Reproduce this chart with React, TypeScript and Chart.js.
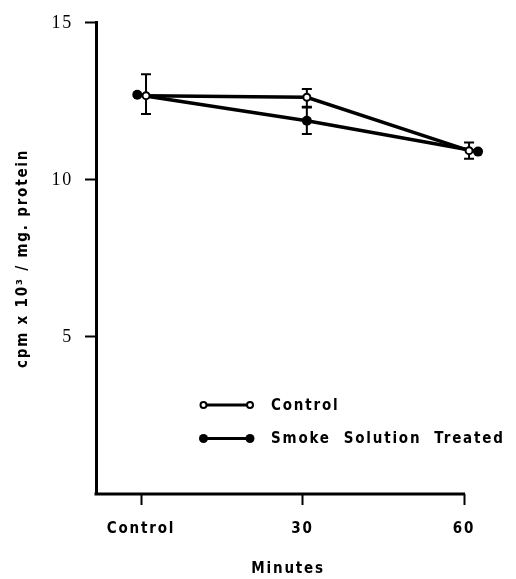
import React, { useEffect, useRef } from 'react';
import { Chart, registerables } from 'chart.js';

Chart.register(...registerables);

// ---- data ----
const tickValues = [0, 30, 60];
const tickLabels = ['Control', '30', '60'];
const yTickValues = [5, 10, 15];

const seriesNames = ['Control', 'Smoke  Solution  Treated'];

const controlX = [0.93, 30.8, 60.93];
const controlMean = [12.68, 12.63, 10.93];
const controlLow = [12.1, 12.33, 10.67];
const controlHigh = [13.36, 12.89, 11.19];

const smokeX = [-0.69, 30.8, 62.6];
const smokeMean = [12.71, 11.88, 10.9];
const smokeLow: (number | null)[] = [null, 11.46, null];
const smokeHigh: (number | null)[] = [null, 12.3, null];

const SANS = "'DejaVu Sans Condensed', 'DejaVu Sans', sans-serif";
const SERIF = "'Liberation Serif', 'DejaVu Serif', serif";
const SPACING = '1.8px';

const spacingPlugin = {
  id: 'spacing',
  beforeDraw(chart: any) {
    chart.ctx.letterSpacing = SPACING;
  },
  afterDraw(chart: any) {
    chart.ctx.letterSpacing = '0px';
  },
};

// x-axis line drawn only across the tick range (data extends slightly past the last tick)
const axisLinePlugin = {
  id: 'axisLine',
  afterDraw(chart: any) {
    const ctx = chart.ctx;
    const xs = chart.scales.x;
    const area = chart.chartArea;
    ctx.save();
    ctx.strokeStyle = '#000';
    ctx.lineWidth = 3;
    ctx.beginPath();
    ctx.moveTo(area.left - 1.5, area.bottom);
    ctx.lineTo(xs.getPixelForValue(tickValues[tickValues.length - 1]) + 1, area.bottom);
    ctx.stroke();
    ctx.restore();
  },
};

const errorBarPlugin = {
  id: 'errorBars',
  beforeDatasetsDraw(chart: any) {
    const ctx = chart.ctx;
    const yScale = chart.scales.y;
    ctx.save();
    ctx.strokeStyle = '#000';
    ctx.lineWidth = 2;
    chart.data.datasets.forEach((ds: any, i: number) => {
      const meta = chart.getDatasetMeta(i);
      meta.data.forEach((pt: any, j: number) => {
        const lo = ds.errLow[j];
        const hi = ds.errHigh[j];
        if (lo == null || hi == null) return;
        const x = pt.x;
        const yl = yScale.getPixelForValue(lo);
        const yh = yScale.getPixelForValue(hi);
        ctx.beginPath();
        ctx.moveTo(x, yl);
        ctx.lineTo(x, yh);
        ctx.moveTo(x - 5, yl);
        ctx.lineTo(x + 5, yl);
        ctx.moveTo(x - 5, yh);
        ctx.lineTo(x + 5, yh);
        ctx.stroke();
      });
    });
    ctx.restore();
  },
};

const legendPlugin = {
  id: 'customLegend',
  afterDraw(chart: any) {
    const ctx = chart.ctx;
    ctx.save();
    const rows = [
      { y: 405, label: seriesNames[0], filled: false },
      { y: 438.5, label: seriesNames[1], filled: true },
    ];
    rows.forEach((r) => {
      ctx.strokeStyle = '#000';
      ctx.lineWidth = 3;
      ctx.beginPath();
      ctx.moveTo(203.5, r.y);
      ctx.lineTo(250, r.y);
      ctx.stroke();
      [203.5, 250].forEach((cx) => {
        ctx.beginPath();
        if (r.filled) {
          ctx.arc(cx, r.y, 4.5, 0, Math.PI * 2);
          ctx.fillStyle = '#000';
          ctx.fill();
        } else {
          ctx.arc(cx, r.y, 3, 0, Math.PI * 2);
          ctx.fillStyle = '#fff';
          ctx.fill();
          ctx.lineWidth = 2;
          ctx.stroke();
        }
      });
      ctx.letterSpacing = SPACING;
      ctx.fillStyle = '#000';
      ctx.font = `bold 15px ${SANS}`;
      ctx.textAlign = 'left';
      ctx.textBaseline = 'middle';
      ctx.fillText(r.label, 271, r.y + 1);
    });
    ctx.restore();
  },
};

export default function App() {
  const ref = useRef<HTMLCanvasElement | null>(null);

  useEffect(() => {
    if (!ref.current) return;
    const chart = new Chart(ref.current, {
      type: 'line',
      data: {
        datasets: [
          {
            label: seriesNames[0],
            data: controlX.map((x, i) => ({ x, y: controlMean[i] })),
            borderColor: '#000',
            borderWidth: 3.5,
            pointRadius: 3.5,
            pointBorderWidth: 2,
            pointBackgroundColor: '#fff',
            pointBorderColor: '#000',
            tension: 0,
            clip: false,
            errLow: controlLow,
            errHigh: controlHigh,
          } as any,
          {
            label: seriesNames[1],
            data: smokeX.map((x, i) => ({ x, y: smokeMean[i] })),
            borderColor: '#000',
            borderWidth: 3.5,
            pointRadius: 5,
            pointBorderWidth: 0,
            pointBackgroundColor: '#000',
            pointBorderColor: '#000',
            tension: 0,
            clip: false,
            errLow: smokeLow,
            errHigh: smokeHigh,
          } as any,
        ],
      },
      options: {
        responsive: false,
        animation: false,
        devicePixelRatio: 1,
        layout: { padding: { top: 18, right: 35.8, bottom: 0, left: 0 } },
        plugins: {
          legend: { display: false },
          tooltip: { enabled: false },
        },
        scales: {
          x: {
            type: 'linear',
            min: -8.36,
            max: 63,
            afterBuildTicks: (scale: any) => {
              scale.ticks = tickValues.map((v) => ({ value: v }));
            },
            afterFit: (scale: any) => {
              scale.height = 85;
            },
            grid: {
              drawOnChartArea: false,
              drawTicks: true,
              tickLength: 11,
              tickWidth: 2,
              tickColor: '#000',
            },
            border: { display: false },
            ticks: {
              autoSkip: false,
              maxRotation: 0,
              padding: 15.5,
              color: '#000',
              font: { family: SANS, size: 15, weight: 'bold' },
              callback: (v: any) => {
                const i = tickValues.indexOf(Number(v));
                return i >= 0 ? tickLabels[i] : '';
              },
            },
            title: {
              display: true,
              text: 'Minutes',
              color: '#000',
              font: { family: SANS, size: 15, weight: 'bold' },
              padding: { top: 0, bottom: 1 },
            },
          },
          y: {
            type: 'linear',
            min: 0,
            max: 15,
            afterBuildTicks: (scale: any) => {
              scale.ticks = yTickValues.map((v) => ({ value: v }));
            },
            afterFit: (scale: any) => {
              scale.width = 96;
            },
            grid: {
              drawOnChartArea: false,
              drawTicks: true,
              tickLength: 11,
              tickWidth: 2,
              tickColor: '#000',
            },
            border: { display: true, color: '#000', width: 3 },
            ticks: {
              padding: 12,
              color: '#000',
              font: { family: SERIF, size: 18 },
              callback: (v: any) => String(v),
            },
            title: {
              display: true,
              text: 'cpm x 10³ / mg. protein',
              color: '#000',
              font: { family: SANS, size: 15, weight: 'bold' },
              padding: { top: 14, bottom: 0 },
            },
          },
        },
      } as any,
      plugins: [spacingPlugin, errorBarPlugin, axisLinePlugin, legendPlugin],
    });
    return () => chart.destroy();
  }, []);

  return (
    <div style={{ position: 'fixed', left: 0, top: 0, width: 516, height: 579, background: '#fff' }}>
      <canvas ref={ref} width={516} height={579} style={{ display: 'block' }} />
    </div>
  );
}
